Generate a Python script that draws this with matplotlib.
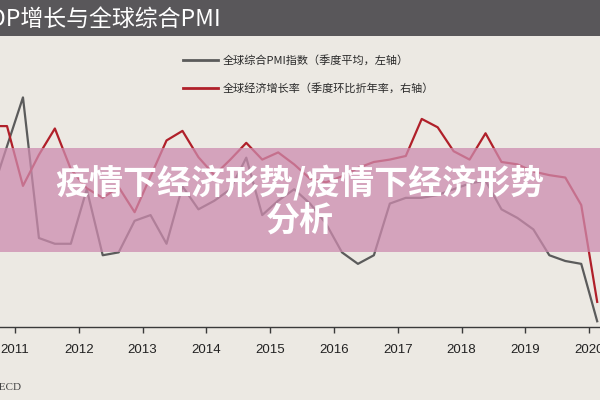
import matplotlib.pyplot as plt
from matplotlib.patches import Rectangle
from matplotlib.lines import Line2D

# quarterly data
quarters = ["2010Q3", "2010Q4",
            "2011Q1", "2011Q2", "2011Q3", "2011Q4",
            "2012Q1", "2012Q2", "2012Q3", "2012Q4",
            "2013Q1", "2013Q2", "2013Q3", "2013Q4",
            "2014Q1", "2014Q2", "2014Q3", "2014Q4",
            "2015Q1", "2015Q2", "2015Q3", "2015Q4",
            "2016Q1", "2016Q2", "2016Q3", "2016Q4",
            "2017Q1", "2017Q2", "2017Q3", "2017Q4",
            "2018Q1", "2018Q2", "2018Q3", "2018Q4",
            "2019Q1", "2019Q2", "2019Q3", "2019Q4",
            "2020Q1"]

pmi = [52.6, 54.3,
       56.0, 51.1, 50.9, 50.9,
       52.8, 50.5, 50.6, 51.7,
       51.9, 50.9, 52.9, 52.1,
       52.4, 52.8, 53.9, 51.9,
       52.4, 52.8, 52.3, 51.6,
       50.6, 50.2, 50.5, 52.3,
       52.5, 52.5, 52.6, 52.8,
       53.0, 53.1, 52.1, 51.8,
       51.4, 50.5, 50.3, 50.2,
       48.2]

gdp_growth = [2.4, 2.4,
              -0.1, 1.2, 2.3, 0.6,
              -0.2, -0.6, -0.15, -1.2,
              0.3, 1.8, 2.2, 1.1,
              0.35, 1.0, 1.7, 1.0,
              1.3, 0.8, 0.2, 0.05,
              0.3, 0.65, 0.9, 1.0,
              1.15, 2.7, 2.35, 1.35,
              1.0, 2.1, 0.9, 0.8,
              0.5, 0.35, 0.25, -0.9,
              -4.95]

year_ticks = list(range(2011, 2021))

pmi_label = "全球综合PMI指数（季度平均，左轴）"
gdp_label = "全球经济增长率（季度环比折年率，右轴）"

plt.rcParams['font.family'] = ['Noto Sans CJK SC', 'DejaVu Sans']

bg = '#ECE9E3'
grey = '#5b5b5b'
red = '#b0202a'

fig = plt.figure(figsize=(6, 4), dpi=100)
fig.patch.set_facecolor(bg)

ax = fig.add_axes([0, 0.1825, 1, 0.7175])
ax.set_facecolor('none')
ax2 = ax.twinx()

# quarter mid points
x = [int(q[:4]) + (int(q[-1]) - 0.5) / 4 for q in quarters]

line1, = ax.plot(x, pmi, color=grey, lw=1.6)
line2, = ax2.plot(x, gdp_growth, color=red, lw=1.6)

ax.set_xlim(2010.765, 2020.169)
ax.set_ylim(48, 58)
ax2.set_ylim(-6, 6)

for a in (ax, ax2):
    for s in ['top', 'left', 'right']:
        a.spines[s].set_visible(False)
    a.set_yticks([])
ax2.spines['bottom'].set_visible(False)
ax.spines['bottom'].set_color('#3a3a3a')
ax.spines['bottom'].set_linewidth(1.0)

ax.set_xticks(year_ticks)
ax.set_xticklabels([str(y) for y in year_ticks])
ax.tick_params(axis='x', direction='out', length=4, width=1, color='#3a3a3a',
               labelsize=9.5, labelcolor='#222222', pad=8)
for lbl in ax.get_xticklabels():
    lbl.set_fontfamily('Liberation Sans')

# legend, drawn by hand
W, H = 600.0, 400.0
for ypix, ln, txt in [(60, line1, pmi_label), (88, line2, gdp_label)]:
    fig.add_artist(Line2D([183 / W, 218 / W], [1 - ypix / H, 1 - ypix / H],
                          color=ln.get_color(), lw=2, transform=fig.transFigure))
    fig.text(223 / W, 1 - ypix / H, txt, fontsize=8, color='#2a2a2a',
             fontweight='medium', va='center', ha='left')

# title bar
fig.add_artist(Rectangle((0, 1 - 36 / H), 1, 36 / H, transform=fig.transFigure,
                         facecolor='#59575A', edgecolor='none', zorder=4))
fig.text(221 / W, 1 - 19 / H, "GDP增长与全球综合PMI", fontsize=16.5, color='white',
         ha='right', va='center', zorder=6)

# source
fig.text(21 / W, 1 - 388 / H, "Source: OECD", fontsize=8, color='#444444',
         family='Liberation Serif', ha='right', va='center')

# pink banner
fig.add_artist(Rectangle((0, 1 - 252 / H), 1, 104 / H, transform=fig.transFigure,
                         facecolor='#CD8CAF', edgecolor='none', alpha=0.75, zorder=5))
fig.text(0.5, 1 - 183 / H, "疫情下经济形势/疫情下经济形势", fontsize=24.5, color='white',
         fontweight='bold', ha='center', va='center', zorder=6)
fig.text(0.5, 1 - 221 / H, "分析", fontsize=24.5, color='white',
         fontweight='bold', ha='center', va='center', zorder=6)

fig.savefig('out.png', dpi=100, facecolor=fig.get_facecolor())
